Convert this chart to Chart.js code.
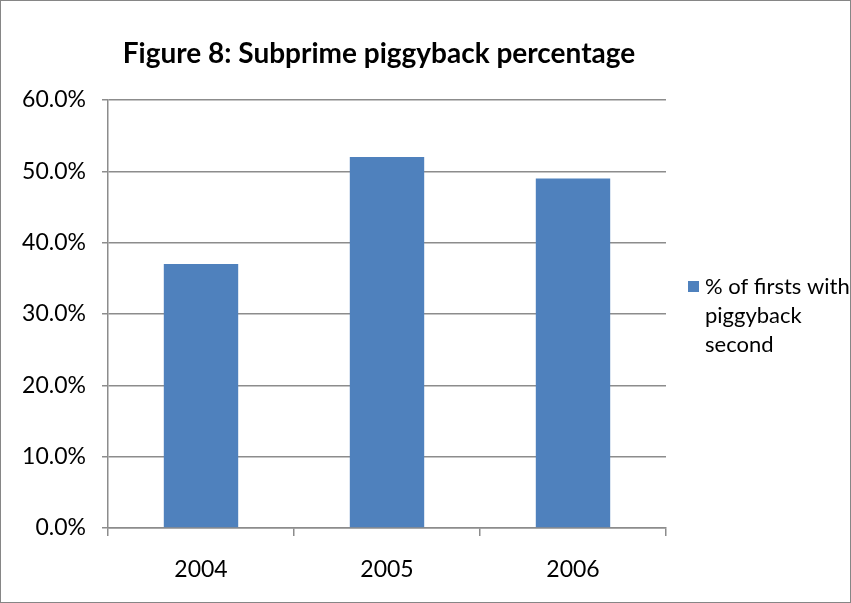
<!DOCTYPE html>
<html>
<head>
<meta charset="utf-8">
<script src="https://cdn.jsdelivr.net/npm/chart.js@4"></script>
<style>
  html, body { margin: 0; padding: 0; background: #fff; }
  #wrap { width: 851px; height: 603px; position: relative; }
</style>
</head>
<body>
<div id="wrap"><canvas id="chart" width="851" height="603"></canvas></div>
<script>
// Data
const years = ['2004', '2005', '2006'];
const piggybackShare = [0.37, 0.52, 0.49];
const seriesName = '% of firsts with piggyback second';
const legendLines = ['% of firsts with', 'piggyback', 'second'];
const chartTitle = 'Figure 8: Subprime piggyback percentage';

const FONT = 'Lato, "Open Sans", sans-serif';
const BAR = '#4F81BD';
const GRID = '#8c8c8c';

// Frame, title and the wrapped legend on the right (Excel style)
const decorations = {
    id: 'decorations',
    afterDraw(chart) {
        const { ctx, chartArea } = chart;
        ctx.save();
        ctx.strokeStyle = '#868686';
        ctx.lineWidth = 1;
        ctx.strokeRect(0.5, 0.5, chart.width - 1, chart.height - 1);

        ctx.fillStyle = '#000';
        ctx.font = `bold 28px ${FONT}`;
        ctx.textAlign = 'center';
        ctx.textBaseline = 'middle';
        ctx.fillText(chartTitle, chartArea.left + (chartArea.right - chartArea.left) / 2 - 8, 54);

        const lx = chartArea.right + 22;
        const ly = 287;
        ctx.fillStyle = BAR;
        ctx.fillRect(lx, ly - 6, 11, 11);
        ctx.fillStyle = '#000';
        ctx.font = `22px ${FONT}`;
        ctx.textAlign = 'left';
        legendLines.forEach((line, i) => ctx.fillText(line, lx + 17, ly + i * 29));
        ctx.restore();
    }
};

new Chart(document.getElementById('chart').getContext('2d'), {
    type: 'bar',
    data: {
        labels: years,
        datasets: [{
            label: seriesName,
            data: piggybackShare,
            backgroundColor: BAR,
            categoryPercentage: 1,
            barPercentage: 0.4,
        }]
    },
    options: {
        responsive: false,
        animation: false,
        layout: { padding: { top: 100, right: 185, bottom: 0, left: 0 } },
        plugins: {
            legend: { display: false },
            title: { display: false },
            tooltip: { enabled: false },
        },
        scales: {
            x: {
                afterFit: s => { s.height = 75; },
                grid: { offset: true, drawOnChartArea: false, color: GRID, lineWidth: 1.5, tickLength: 8 },
                border: { color: GRID, width: 1.5 },
                ticks: { color: '#000', font: { family: FONT, size: 23 }, padding: 20 },
            },
            y: {
                min: 0,
                max: 0.6,
                afterFit: s => { s.width = 108; },
                grid: { color: GRID, lineWidth: 1.5, tickLength: 6 },
                border: { color: GRID, width: 1.5 },
                ticks: {
                    stepSize: 0.1,
                    color: '#000',
                    font: { family: FONT, size: 23 },
                    padding: 16,
                    callback: v => (v * 100).toFixed(1) + '%',
                },
            },
        },
    },
    plugins: [decorations],
});
</script>
</body>
</html>
